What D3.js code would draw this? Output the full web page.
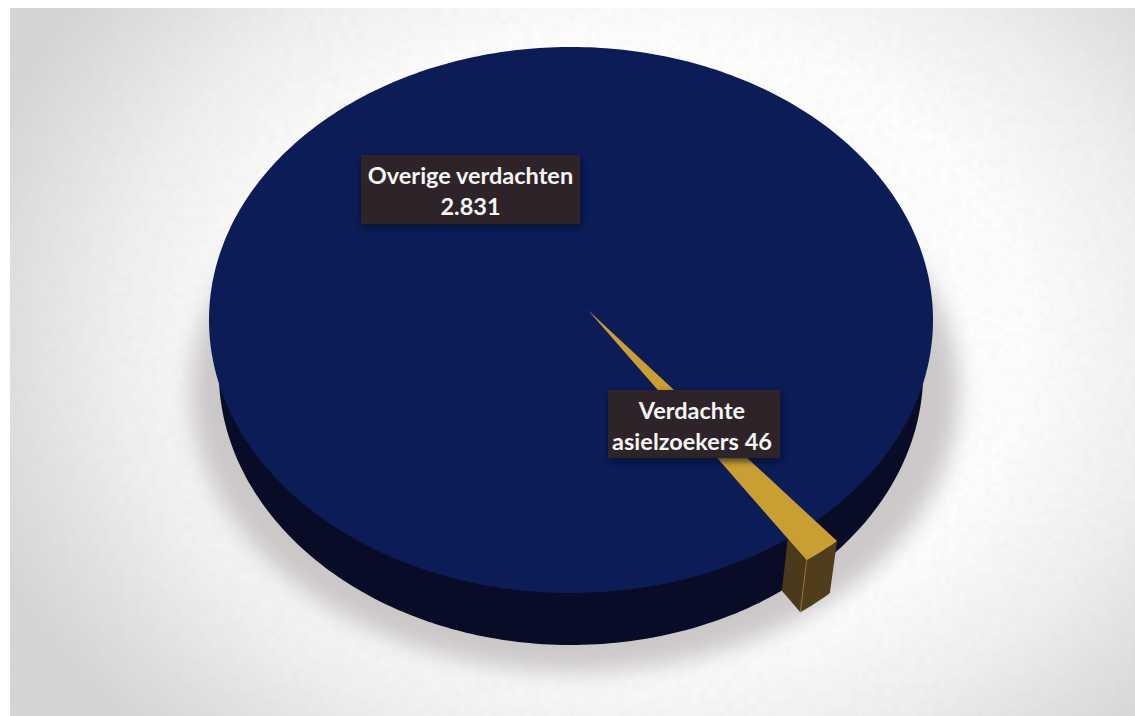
<!DOCTYPE html>
<html>
<head>
<meta charset="utf-8">
<script src="https://cdn.jsdelivr.net/npm/d3@7"></script>
<style>html,body{margin:0;padding:0;background:#fff}svg{display:block}</style>
</head>
<body>
<div id="chart"></div>
<script>
const categories = ["Verdachte asielzoekers", "Overige verdachten"];
const seriesValues = [46, 2831];
const labelLines = [["Verdachte", "asielzoekers 46"], ["Overige verdachten", "2.831"]];
const sliceColors = ["#c99e33", "#0c1c56"];
const sideColors = ["#4a3a1b", "#090c26"];

const W = 1135, H = 716;
const svg = d3.select("#chart").append("svg").attr("width", W).attr("height", H);
const defs = svg.append("defs");

// Backdrop
const bg = defs.append("radialGradient").attr("id", "bg").attr("gradientUnits", "userSpaceOnUse")
  .attr("cx", 640).attr("cy", 340).attr("r", 700)
  .attr("gradientTransform", "translate(640 340) scale(1 .8) translate(-640 -340)");
[[0, "#ffffff"], [0.55, "#fdfdfc"], [0.75, "#efefed"], [1, "#d6d4d5"]].forEach(([o, c]) =>
  bg.append("stop").attr("offset", o).attr("stop-color", c));
defs.append("filter").attr("id", "shadowBlur").attr("x", "-20%").attr("y", "-20%").attr("width", "140%").attr("height", "140%")
  .append("feGaussianBlur").attr("stdDeviation", 11);
defs.append("filter").attr("id", "boxBlur").attr("x", "-20%").attr("y", "-20%").attr("width", "140%").attr("height", "140%")
  .append("feGaussianBlur").attr("stdDeviation", 3);
const noise = defs.append("filter").attr("id", "grain").attr("x", 0).attr("y", 0).attr("width", "100%").attr("height", "100%");
noise.append("feTurbulence").attr("type", "fractalNoise").attr("baseFrequency", 0.12).attr("numOctaves", 2).attr("seed", 4);
noise.append("feColorMatrix").attr("values", "0 0 0 0 .55  0 0 0 0 .53  0 0 0 0 .56  0 0 0 .55 -.18");

svg.append("rect").attr("width", W).attr("height", H).attr("fill", "#fff");
svg.append("rect").attr("x", 10).attr("y", 8).attr("width", W - 10).attr("height", H - 8).attr("fill", "url(#bg)");
svg.append("rect").attr("x", 10).attr("y", 8).attr("width", W - 10).attr("height", H - 8).attr("filter", "url(#grain)").attr("opacity", .28);

// Tilted-disc projection: unit disc (u, v) + height z -> screen
const sx = d3.scaleLinear().domain([-1, 1]).range([571 - 362, 571 + 362]);
const sy = d3.scaleLinear().domain([-1, 1]).range([320 - 273, 320 + 273]);
const persp = -0.1, depth = 52, taper = 0.027;
function project(u, v, z = 0) {
  const d = 1 + persp * v;
  const x = u * Math.sqrt(1 - persp * persp) / d * (1 - taper * z);
  const y = (v + persp) / d;
  return [sx(x), sy(y) + depth * z];
}
const polar = (a, r = 1) => [r * Math.sin(a), -r * Math.cos(a)];
const line = d3.line();

// Slices from the values
const deg = Math.PI / 180;
const arcs = d3.pie().sort(null).startAngle(141 * deg).endAngle((141 + 360) * deg)(seriesValues);
const wedge = arcs[0], main = arcs[1];

const explode = 0.08;
const mid = (wedge.startAngle + wedge.endAngle) / 2;
const [ox, oy] = polar(mid, explode);
const wp = (a, r, z = 0) => { const [u, v] = polar(a, r); return project(u + ox, v + oy, z); };
const steps = (a, b, n) => d3.range(n + 1).map(i => a + (b - a) * i / n);

// Ground shadow
svg.append("ellipse").attr("cx", 575).attr("cy", 392).attr("rx", 384).attr("ry", 280)
  .attr("fill", "#c4c0c1").attr("opacity", .85).attr("filter", "url(#shadowBlur)");

// Main disc wall: the lower face of the disc, seen below the top face
const mainAngles = steps(main.startAngle, main.endAngle, 360);
const mainTop = mainAngles.map(a => { const [u, v] = polar(a); return project(u, v, 0); });
const mainBot = mainAngles.map(a => { const [u, v] = polar(a); return project(u, v, 1); });
svg.append("path").attr("d", line(mainBot) + "Z").attr("fill", sideColors[1]);

// Exploded wedge walls: radial wall only shows outside the disc rim
const dEnd = wedge.endAngle - mid;
const rimR = -explode * Math.cos(dEnd) + Math.sqrt(1 - Math.pow(explode * Math.sin(dEnd), 2));
svg.append("path")
  .attr("d", line([wp(wedge.endAngle, rimR, 0), wp(wedge.endAngle, 1, 0), wp(wedge.endAngle, 1, 1), wp(wedge.endAngle, rimR, 1)]) + "Z")
  .attr("fill", sideColors[0]);
const wedgeAngles = steps(wedge.startAngle, wedge.endAngle, 8);
svg.append("path")
  .attr("d", line(wedgeAngles.map(a => wp(a, 1, 0)).concat(wedgeAngles.slice().reverse().map(a => wp(a, 1, 1)))) + "Z")
  .attr("fill", "#4f3d1b");
svg.append("path").attr("d", line([wp(wedge.endAngle, 1, 0), wp(wedge.endAngle, 1, 1)]))
  .attr("stroke", "#8f7638").attr("stroke-width", 1).attr("fill", "none");

// Top faces
svg.append("path").attr("d", line(mainTop) + "Z").attr("fill", sliceColors[1]);
svg.append("path")
  .attr("d", line([project(ox, oy, 0)].concat(wedgeAngles.map(a => wp(a, 1, 0)))) + "Z")
  .attr("fill", sliceColors[0]);

// Labels
const boxes = [{ x: 608, y: 390, w: 172, h: 68 }, { x: 361, y: 155, w: 219, h: 69 }];
categories.forEach((c, i) => {
  const b = boxes[i];
  const g = svg.append("g").attr("class", "label").attr("data-category", c);
  g.append("rect").attr("x", b.x + 1).attr("y", b.y + 3).attr("width", b.w).attr("height", b.h)
    .attr("fill", "#05081c").attr("opacity", .7).attr("filter", "url(#boxBlur)");
  g.append("rect").attr("x", b.x).attr("y", b.y).attr("width", b.w).attr("height", b.h).attr("fill", "#2e2329");
  labelLines[i].forEach((t, j) => {
    g.append("text").attr("x", b.x + b.w / 2 - (i === 0 ? 2 : 0)).attr("y", b.y + 29 + j * 31)
      .attr("text-anchor", "middle").attr("fill", "#f6f6f4")
      .attr("font-family", "Lato, 'Open Sans', sans-serif").attr("font-weight", 700)
      .attr("font-size", 23.5).text(t);
  });
});
</script>
</body>
</html>
